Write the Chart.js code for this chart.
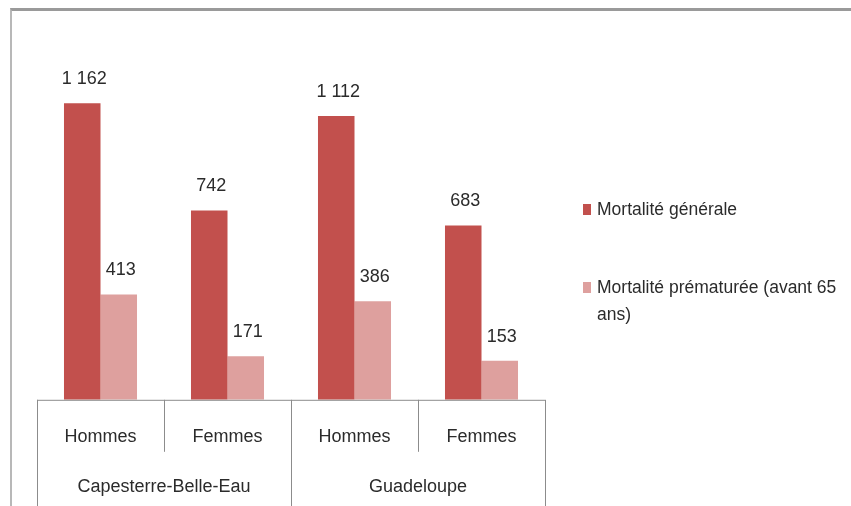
<!DOCTYPE html>
<html>
<head>
<meta charset="utf-8">
<script src="https://cdn.jsdelivr.net/npm/chart.js@4/dist/chart.umd.min.js"></script>
<style>
  html, body { margin: 0; padding: 0; background: #fff; }
  #wrap { position: relative; width: 851px; height: 506px; overflow: hidden; }
  #frame { position: absolute; left: 10px; top: 8px; right: 0; bottom: 0;
           border-top: 3px solid #9a9a9a; border-left: 2px solid #b8b8b8; }
  #chart { position: absolute; left: 0; top: 0; }
  #legend { position: absolute; left: 583px; top: 196px; width: 260px;
            font: 17.5px "Liberation Sans", Arial, sans-serif; color: #2b2b2b; }
  .item { position: relative; padding-left: 14px; line-height: 27px; margin-bottom: 51px; }
  .item span.box { position: absolute; left: 0; top: 8px; width: 8px; height: 11px; }
</style>
</head>
<body>
<div id="wrap">
  <div id="frame"></div>
  <canvas id="chart" width="851" height="506"></canvas>
  <div id="legend"></div>
</div>
<script>
const categories = ["Hommes", "Femmes", "Hommes", "Femmes"];
const groups = ["Capesterre-Belle-Eau", "Guadeloupe"];
const seriesNames = ["Mortalité générale", "Mortalité prématurée (avant 65 ans)"];
const mortaliteGenerale = [1162, 742, 1112, 683];
const mortalitePrematuree = [413, 171, 386, 153];
const colors = ["#c2504d", "#dea09e"];

const FONT = "'Liberation Sans', Arial, sans-serif";

function fmt(v) {
  return String(v).replace(/\B(?=(\d{3})+(?!\d))/g, " ");
}

// value labels above each bar
const valueLabels = {
  id: "valueLabels",
  afterDatasetsDraw(chart) {
    const ctx = chart.ctx;
    ctx.save();
    ctx.font = "18px " + FONT;
    ctx.fillStyle = "#2b2b2b";
    ctx.textAlign = "center";
    ctx.textBaseline = "middle";
    chart.data.datasets.forEach((ds, i) => {
      chart.getDatasetMeta(i).data.forEach((bar, j) => {
        ctx.fillText(fmt(ds.data[j]), bar.x + 2, bar.y - 24);
      });
    });
    ctx.restore();
  }
};

// table-like category axis lines
const tableLines = {
  id: "tableLines",
  afterDraw(chart) {
    const ctx = chart.ctx;
    const x = chart.scales.x;
    const base = chart.chartArea.bottom;
    const step = x.getPixelForValue(1) - x.getPixelForValue(0);
    ctx.save();
    ctx.strokeStyle = "#8c8c8c";
    ctx.lineWidth = 1;
    ctx.beginPath();
    ctx.moveTo(x.left, base + 0.5);
    ctx.lineTo(x.right, base + 0.5);
    for (let i = 0; i <= categories.length; i++) {
      const px = Math.round(x.getPixelForValue(0) - step / 2 + i * step) + 0.5;
      ctx.moveTo(px, base);
      ctx.lineTo(px, i % 2 === 0 ? chart.height : base + 52);
    }
    ctx.stroke();
    ctx.restore();
  }
};

new Chart(document.getElementById("chart"), {
  type: "bar",
  data: {
    labels: categories,
    datasets: [
      {
        label: seriesNames[0],
        data: mortaliteGenerale,
        backgroundColor: colors[0],
        barPercentage: 1,
        categoryPercentage: 0.575,
      },
      {
        label: seriesNames[1],
        data: mortalitePrematuree,
        backgroundColor: colors[1],
        barPercentage: 1,
        categoryPercentage: 0.575,
      },
    ],
  },
  options: {
    responsive: false,
    animation: false,
    layout: {
      padding: { left: 37, right: 306, top: 17, bottom: 5 },
    },
    plugins: {
      legend: { display: false },
      tooltip: { enabled: false },
    },
    scales: {
      x: {
        grid: { display: false, drawTicks: false },
        border: { display: false },
        ticks: {
          color: "#2b2b2b",
          font: { size: 18, family: FONT },
          padding: 26,
          maxRotation: 0,
        },
      },
      x2: {
        type: "category",
        position: "bottom",
        labels: groups,
        offset: true,
        grid: { display: false, drawTicks: false },
        border: { display: false },
        ticks: {
          color: "#2b2b2b",
          font: { size: 18, family: FONT },
          padding: 3,
          maxRotation: 0,
        },
      },
      y: {
        display: false,
        min: 0,
        max: 1500,
      },
    },
  },
  plugins: [valueLabels, tableLines],
});

// legend in HTML
const legend = document.getElementById("legend");
seriesNames.forEach((name, i) => {
  const div = document.createElement("div");
  div.className = "item";
  const box = document.createElement("span");
  box.className = "box";
  box.style.background = colors[i];
  div.appendChild(box);
  div.appendChild(document.createTextNode(name));
  legend.appendChild(div);
});
</script>
</body>
</html>
